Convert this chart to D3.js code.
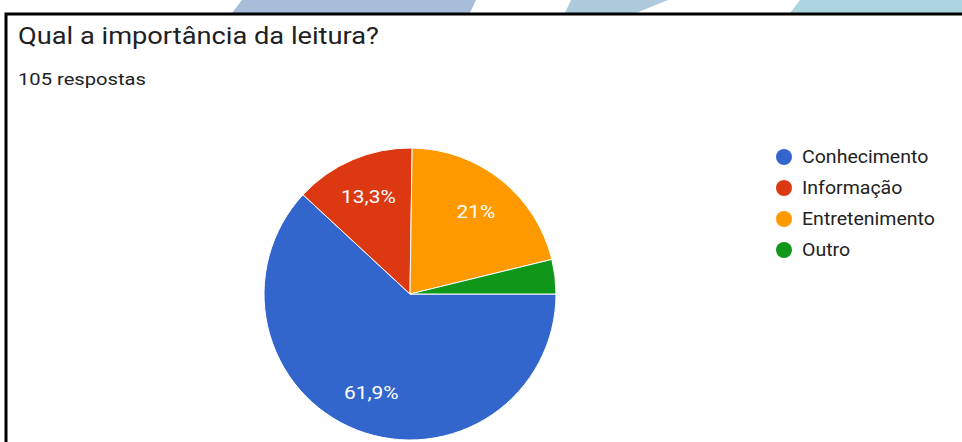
<!DOCTYPE html>
<html>
<head>
<meta charset="utf-8">
<script src="https://cdn.jsdelivr.net/npm/d3@7"></script>
<style>
  body { margin: 0; background: #fff; }
  svg { display: block; }
</style>
</head>
<body>
<div id="chart"></div>
<script>
// data
var categories = ["Conhecimento", "Informação", "Entretenimento", "Outro"];
var counts = [65, 14, 22, 4];
var sliceLabels = ["61,9%", "13,3%", "21%", ""];
var colors = ["#3366cc", "#dc3912", "#ff9900", "#109618"];
var title = "Qual a importância da leitura?";
var subtitle = "105 respostas";

var width = 962, height = 442;

var svg = d3.select("#chart").append("svg")
    .attr("width", width)
    .attr("height", height);

// the screenshot's text is a bit wider than Roboto, stretch it a little
function stretch(sel, k) {
  sel.each(function() {
    var len = this.getComputedTextLength();
    if (len > 0) {
      d3.select(this)
        .attr("textLength", len * k)
        .attr("lengthAdjust", "spacingAndGlyphs");
    }
  });
}

// decorative strips behind the card top
var strips = [
  {pts: [[242, 0], [476, 0], [470, 13], [232, 13]], fill: "#a8bdd7"},
  {pts: [[571, 0], [668, 0], [636, 13], [565, 13]], fill: "#aecadc"},
  {pts: [[800, 0], [962, 0], [962, 13], [790, 13]], fill: "#acd5e0"}
];
svg.selectAll("polygon.strip")
  .data(strips)
  .enter().append("polygon")
    .attr("class", "strip")
    .attr("points", function(d) { return d.pts.map(function(p) { return p.join(","); }).join(" "); })
    .style("fill", function(d) { return d.fill; });

// card border (top and left)
svg.append("path")
    .attr("d", "M6,442 V14 H962")
    .style("fill", "none")
    .style("stroke", "#000")
    .style("stroke-width", 3);

// title + subtitle
svg.append("text")
    .attr("x", 18)
    .attr("y", 44)
    .style("font-family", "Roboto, sans-serif")
    .style("font-size", "24px")
    .style("fill", "#202124")
    .text(title)
    .call(stretch, 1.135);

svg.append("text")
    .attr("x", 18)
    .attr("y", 85)
    .style("font-family", "Roboto, sans-serif")
    .style("font-size", "16px")
    .style("fill", "#202124")
    .text(subtitle)
    .call(stretch, 1.26);

// pie
var cx = 410, cy = 294, r = 146;

var pie = d3.pie()
    .sort(null)
    .startAngle(Math.PI / 2)
    .endAngle(Math.PI / 2 + 2 * Math.PI);

var arc = d3.arc().innerRadius(0).outerRadius(r);
var labelArc = d3.arc().innerRadius(r * 0.725).outerRadius(r * 0.725);

var g = svg.append("g")
    .attr("transform", "translate(" + cx + "," + cy + ")");

var arcs = pie(counts);

g.selectAll("path.slice")
  .data(arcs)
  .enter().append("path")
    .attr("class", "slice")
    .attr("d", arc)
    .style("fill", function(d, i) { return colors[i]; })
    .style("stroke", "#fff")
    .style("stroke-width", 1);

g.selectAll("text.pct")
  .data(arcs)
  .enter().append("text")
    .attr("class", "pct")
    .attr("transform", function(d) { return "translate(" + labelArc.centroid(d) + ")"; })
    .attr("text-anchor", "middle")
    .attr("dy", "0.35em")
    .style("font-family", "Roboto, sans-serif")
    .style("font-size", "19px")
    .style("fill", "#fff")
    .text(function(d, i) { return sliceLabels[i]; })
    .call(stretch, 1.1);

// legend
var legend = svg.append("g")
    .attr("transform", "translate(784,157)");

var rows = legend.selectAll("g.row")
  .data(categories)
  .enter().append("g")
    .attr("class", "row")
    .attr("transform", function(d, i) { return "translate(0," + (i * 31) + ")"; });

rows.append("circle")
    .attr("r", 8)
    .style("fill", function(d, i) { return colors[i]; });

rows.append("text")
    .attr("x", 18)
    .attr("dy", "0.35em")
    .style("font-family", "Roboto, sans-serif")
    .style("font-size", "18px")
    .style("fill", "#222")
    .text(function(d) { return d; })
    .call(stretch, 1.085);
</script>
</body>
</html>
